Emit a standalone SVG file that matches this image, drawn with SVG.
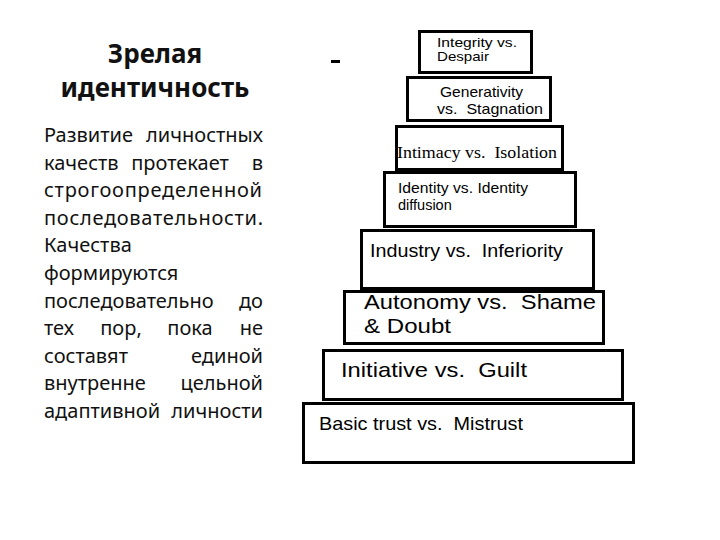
<svg xmlns="http://www.w3.org/2000/svg" width="720" height="540" viewBox="0 0 720 540">
<style>
.box{fill:#fff;stroke:#000;stroke-width:3}
.s{font-family:"Liberation Sans",Arial,sans-serif;fill:#000;white-space:pre}
.t{font-family:"Liberation Serif","Times New Roman",serif;fill:#000;white-space:pre}
.ru{font-family:"Noto Sans","Open Sans",sans-serif;fill:#111;font-size:20px}
.e{text-anchor:end}
.m{text-anchor:middle}
.h{font-family:"Noto Sans","Open Sans",sans-serif;fill:#111;font-size:26px;font-weight:bold;text-anchor:middle}
</style>
<rect width="720" height="540" fill="#fff"/>
<g id="title">
<text class="h" x="155" y="63">Зрелая</text>
<text class="h" x="155" y="97">идентичность</text>
</g>
<g id="body">
<text class="ru" x="44" y="142">Развитие</text><text class="ru e" x="263" y="142">личностных</text>
<text class="ru" x="44" y="170">качеств</text><text class="ru m" x="180" y="170">протекает</text><text class="ru e" x="263" y="170">в</text>
<text class="ru" x="44" y="197" textLength="218" lengthAdjust="spacing">строгоопределенной</text>
<text class="ru" x="44" y="225" textLength="219" lengthAdjust="spacing">последовательности.</text>
<text class="ru" x="44" y="252">Качества</text>
<text class="ru" x="44" y="280">формируются</text>
<text class="ru" x="44" y="308">последовательно</text><text class="ru e" x="263" y="308">до</text>
<text class="ru" x="44" y="335">тех</text><text class="ru m" x="121" y="335">пор,</text><text class="ru m" x="190" y="335">пока</text><text class="ru e" x="263" y="335">не</text>
<text class="ru" x="44" y="363">составят</text><text class="ru e" x="263" y="363">единой</text>
<text class="ru" x="44" y="390">внутренне</text><text class="ru e" x="263" y="390">цельной</text>
<text class="ru" x="44" y="418">адаптивной</text><text class="ru e" x="263" y="418">личности</text>
</g>
<rect id="dash" x="331" y="60" width="9" height="3" fill="#000"/>
<g id="basic">
<rect class="box" x="303.5" y="403.5" width="330" height="59"/>
<text class="s" x="319" y="430" font-size="19" textLength="204" lengthAdjust="spacingAndGlyphs">Basic trust vs.  Mistrust</text>
</g>
<g id="initiative">
<rect class="box" x="323.5" y="350.5" width="299" height="49"/>
<text class="s" x="341" y="377" font-size="21" textLength="186" lengthAdjust="spacingAndGlyphs">Initiative vs.  Guilt</text>
</g>
<g id="autonomy">
<rect class="box" x="344.5" y="291.5" width="259" height="52"/>
<text class="s" x="364" y="309" font-size="21" textLength="232" lengthAdjust="spacingAndGlyphs">Autonomy vs.  Shame</text>
<text class="s" x="364" y="333" font-size="21" textLength="87" lengthAdjust="spacingAndGlyphs">&amp; Doubt</text>
</g>
<g id="industry">
<rect class="box" x="361.5" y="230.5" width="232" height="58"/>
<text class="s" x="370" y="257" font-size="19" textLength="193" lengthAdjust="spacingAndGlyphs">Industry vs.  Inferiority</text>
</g>
<g id="identity">
<rect class="box" x="384.5" y="172.5" width="191" height="54"/>
<text class="s" x="398" y="193" font-size="14.5" textLength="130" lengthAdjust="spacingAndGlyphs">Identity vs. Identity</text>
<text class="s" x="398" y="210" font-size="14.5">diffusion</text>
</g>
<g id="intimacy">
<rect class="box" x="396.5" y="126.5" width="166" height="43"/>
<text class="t" x="397" y="158" font-size="17" textLength="160" lengthAdjust="spacingAndGlyphs">Intimacy vs.  Isolation</text>
</g>
<g id="generativity">
<rect class="box" x="407.5" y="77.5" width="143" height="43"/>
<text class="s" x="440" y="97" font-size="15" textLength="83" lengthAdjust="spacingAndGlyphs">Generativity</text>
<text class="s" x="437" y="114" font-size="15" textLength="106" lengthAdjust="spacingAndGlyphs">vs.  Stagnation</text>
</g>
<g id="integrity">
<rect class="box" x="419.5" y="31.5" width="112" height="41"/>
<text class="s" x="437" y="47" font-size="13" fill="#333" textLength="80" lengthAdjust="spacingAndGlyphs">Integrity vs.</text>
<text class="s" x="437" y="61" font-size="13" fill="#333" textLength="52" lengthAdjust="spacingAndGlyphs">Despair</text>
</g>
<g id="connectors"/>
</svg>
